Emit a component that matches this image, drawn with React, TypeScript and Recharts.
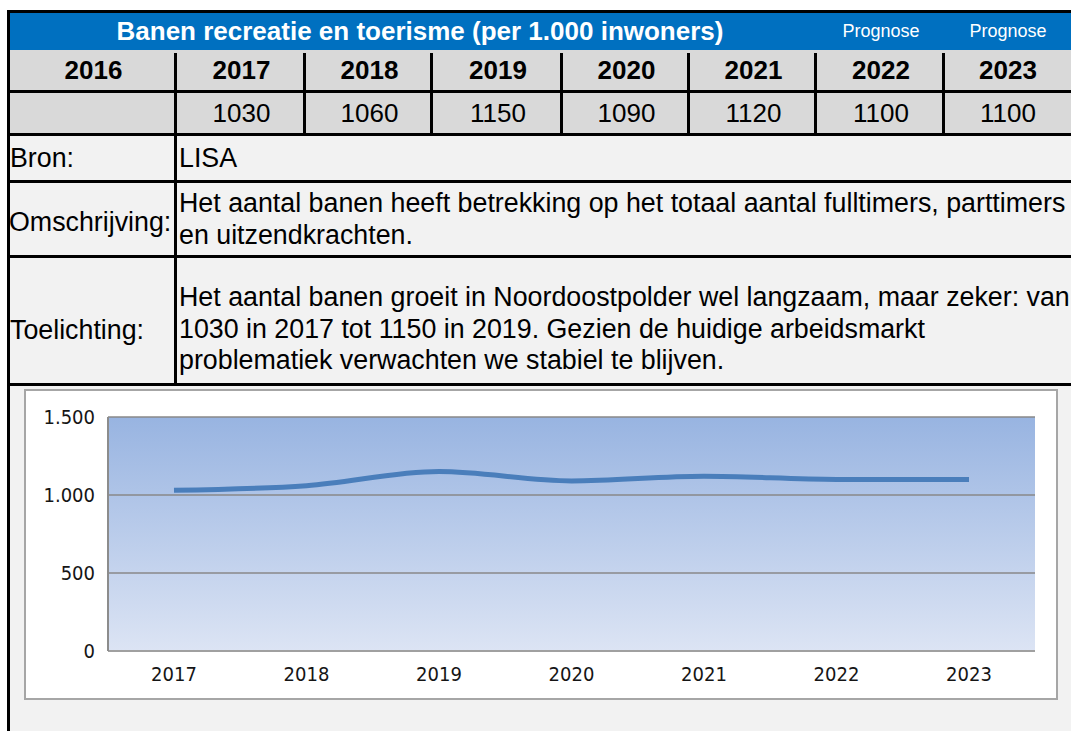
import React from 'react';
import { LineChart, Line, XAxis, YAxis, CartesianGrid } from 'recharts';

// 表の中身
const headerYears = ['2016', '2017', '2018', '2019', '2020', '2021', '2022', '2023'];
const tableValues = ['', '1030', '1060', '1150', '1090', '1120', '1100', '1100'];
const prognoseLabels = ['Prognose', 'Prognose'];

// グラフのデータ
const chartYears = ['2017', '2018', '2019', '2020', '2021', '2022', '2023'];
const banen = [1030, 1060, 1150, 1090, 1120, 1100, 1100];
const yTicks = [0, 500, 1000, 1500];

const chartData = chartYears.map((year, i) => ({ year, banen: banen[i] }));

const colEdges = [10, 177, 306, 433, 563, 690, 817, 945, 1071];

const FONT = '"Liberation Sans", Arial, sans-serif';
const TICK_FONT = '"DejaVu Sans Condensed", "DejaVu Sans", sans-serif';
const BLUE = '#0070c0';
const GREY = '#d9d9d9';
const LIGHT = '#f2f2f2';

const fmt = (v: number) => v.toString().replace(/\B(?=(\d{3})+(?!\d))/g, '.');

const box = (left: number, top: number, width: number, height: number, bg: string): React.CSSProperties => ({
  position: 'absolute',
  left,
  top,
  width,
  height,
  background: bg,
});

export default function App() {
  return (
    <div
      style={{
        position: 'absolute',
        left: 0,
        top: 0,
        width: 1071,
        height: 731,
        background: '#ffffff',
        overflow: 'hidden',
        fontFamily: FONT,
        color: '#000',
      }}
    >
      <svg width={0} height={0} style={{ position: 'absolute' }}>
        <defs>
          <linearGradient id="plotBg" x1="0" y1="0" x2="0" y2="1">
            <stop offset="0%" stopColor="#98b4e1" />
            <stop offset="100%" stopColor="#dce4f4" />
          </linearGradient>
        </defs>
      </svg>

      {/* 背景 */}
      <div style={box(10, 13, 1061, 37, BLUE)} />
      <div style={box(10, 50, 1061, 83, GREY)} />
      <div style={box(10, 133, 1061, 598, LIGHT)} />

      {/* タイトル行 */}
      <div
        style={{
          position: 'absolute',
          left: 10,
          top: 13,
          width: 820,
          height: 37,
          lineHeight: '37px',
          textAlign: 'center',
          color: '#fff',
          fontWeight: 700,
          fontSize: 26,
        }}
      >
        Banen recreatie en toerisme (per 1.000 inwoners)
      </div>
      {prognoseLabels.map((p, i) => (
        <div
          key={i}
          style={{
            position: 'absolute',
            left: colEdges[6 + i],
            top: 13,
            width: colEdges[7 + i] - colEdges[6 + i],
            height: 37,
            lineHeight: '37px',
            textAlign: 'center',
            color: '#fff',
            fontSize: 18,
          }}
        >
          {p}
        </div>
      ))}

      {/* 年・値 */}
      {headerYears.map((y, i) => (
        <div
          key={y}
          style={{
            position: 'absolute',
            left: colEdges[i],
            top: 50,
            width: colEdges[i + 1] - colEdges[i],
            height: 40,
            lineHeight: '40px',
            textAlign: 'center',
            fontWeight: 700,
            fontSize: 26,
          }}
        >
          {y}
        </div>
      ))}
      {tableValues.map((v, i) => (
        <div
          key={i}
          style={{
            position: 'absolute',
            left: colEdges[i],
            top: 93,
            width: colEdges[i + 1] - colEdges[i],
            height: 40,
            lineHeight: '40px',
            textAlign: 'center',
            fontSize: 26,
          }}
        >
          {v}
        </div>
      ))}

      {/* 線 */}
      <div style={box(7, 10, 1064, 3, '#000')} />
      <div style={box(7, 10, 3, 721, '#000')} />
      <div style={box(10, 90, 1061, 3, '#000')} />
      <div style={box(10, 133, 1061, 3, '#000')} />
      <div style={box(10, 180, 1061, 3, '#000')} />
      <div style={box(10, 255, 1061, 3, '#000')} />
      <div style={box(10, 383, 1061, 3, '#000')} />
      {colEdges.slice(1, 8).map((x) => (
        <div key={x} style={box(x - 3, 53, 3, 80, '#000')} />
      ))}
      <div style={box(174, 133, 3, 253, '#000')} />

      {/* 説明 */}
      <div style={{ position: 'absolute', left: 10, top: 136, height: 44, lineHeight: '44px', fontSize: 26.8 }}>Bron:</div>
      <div style={{ position: 'absolute', left: 179, top: 136, height: 44, lineHeight: '44px', fontSize: 26.8 }}>LISA</div>

      <div style={{ position: 'absolute', left: 9, top: 183, height: 72, lineHeight: '78px', fontSize: 26.8, whiteSpace: 'nowrap' }}>Omschrijving:</div>
      <div style={{ position: 'absolute', left: 179, top: 187, lineHeight: '32px', fontSize: 26.8, whiteSpace: 'nowrap' }}>
        Het aantal banen heeft betrekking op het totaal aantal fulltimers, parttimers
        <br />
        en uitzendkrachten.
      </div>

      <div style={{ position: 'absolute', left: 10, top: 258, height: 125, lineHeight: '144px', fontSize: 26.8 }}>Toelichting:</div>
      <div style={{ position: 'absolute', left: 179, top: 282, lineHeight: '31.5px', fontSize: 26.8, whiteSpace: 'nowrap' }}>
        Het aantal banen groeit in Noordoostpolder wel langzaam, maar zeker: van
        <br />
        1030 in 2017 tot 1150 in 2019. Gezien de huidige arbeidsmarkt
        <br />
        problematiek verwachten we stabiel te blijven.
      </div>

      {/* グラフ */}
      <div
        style={{
          position: 'absolute',
          left: 24,
          top: 389,
          width: 1030,
          height: 307,
          background: '#fff',
          border: '2px solid #a6a6a6',
        }}
      >
        <LineChart
          width={1030}
          height={307}
          data={chartData}
          margin={{ top: 26, right: 21, bottom: 0, left: 0 }}
        >
          <CartesianGrid
            vertical={false}
            horizontal
            stroke="#888888"
            strokeWidth={1.5}
            fill="url(#plotBg)"
            fillOpacity={1}
          />
          <XAxis
            dataKey="year"
            height={47}
            padding={{ left: 66, right: 66 }}
            axisLine={{ stroke: '#a0a0a0', strokeWidth: 2 }}
            tickLine={false}
            tickSize={0}
            tickMargin={16}
            tick={{ fontSize: 20, fill: '#151515', fontFamily: TICK_FONT }}
          />
          <YAxis
            width={82}
            domain={[0, 1500]}
            ticks={yTicks}
            interval={0}
            tickFormatter={fmt}
            axisLine={{ stroke: '#8c8c8c', strokeWidth: 2 }}
            tickLine={false}
            tickSize={0}
            tickMargin={13}
            tick={{ fontSize: 20, fill: '#151515', fontFamily: TICK_FONT }}
          />
          <Line
            type="monotone"
            dataKey="banen"
            stroke="#4a7ebb"
            strokeWidth={5}
            dot={false}
            activeDot={false}
            isAnimationActive={false}
          />
        </LineChart>
      </div>
    </div>
  );
}
